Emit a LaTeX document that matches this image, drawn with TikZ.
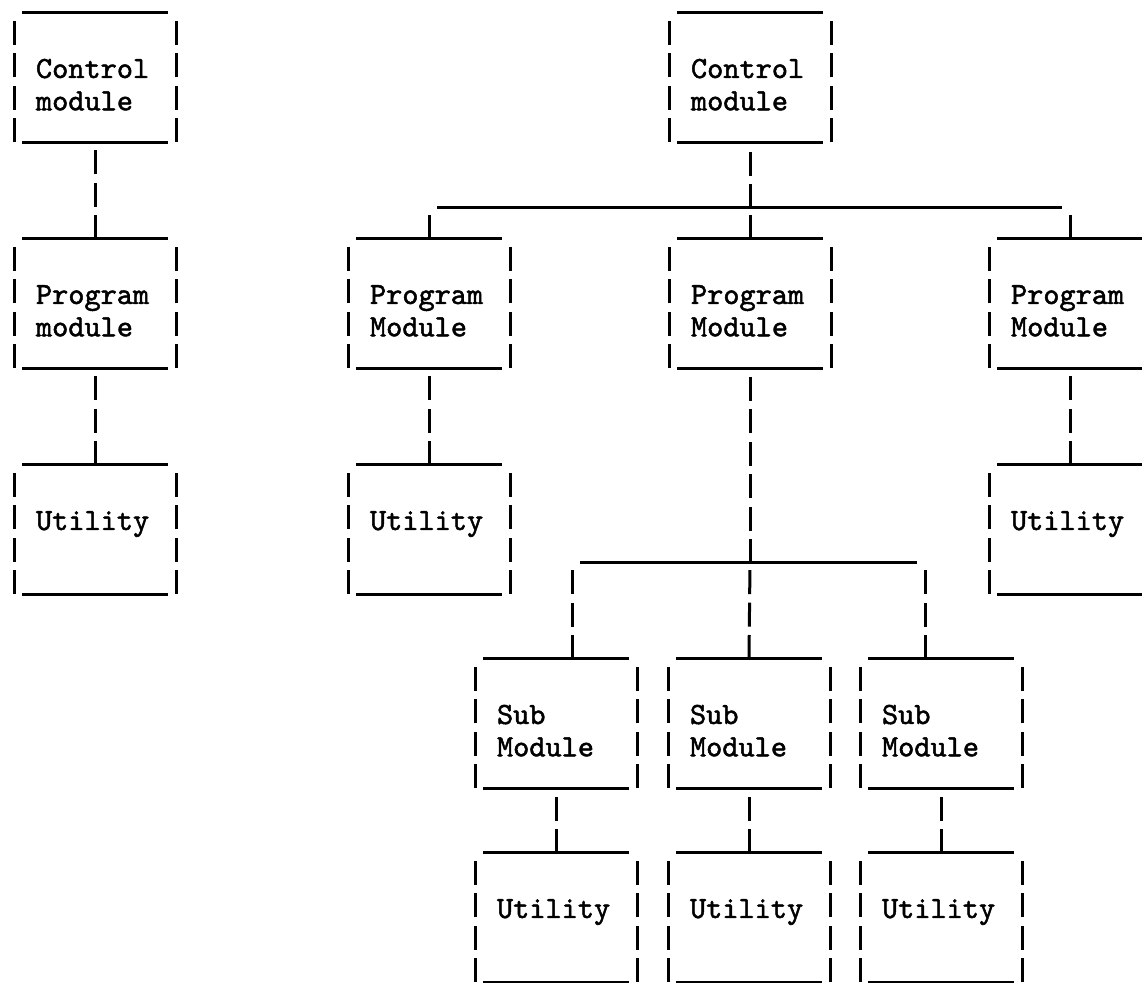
\documentclass[tikz,border=0pt]{standalone}
\usepackage{fontspec}
\newfontfamily\modfont{lmmono10-regular.otf}[FakeBold=1.6]
\usetikzlibrary{calc}

\tikzset{
  modbox/.style={anchor=north west, inner xsep=11pt, inner ysep=0pt,
    outer sep=0pt, text width=59pt, align=left,
    text height=32.5pt, text depth=32.1pt,
    font=\modfont\fontsize{15.4pt}{16.15pt}\selectfont},
  bar/.style={line width=1.5pt},
  pipe/.style={line width=1.5pt, dash pattern=on 12pt off 4.2pt}
}

% the typed frame round a module: solid top and bottom, broken sides
\newcommand\frameit[1]{%
  \draw[bar] ([xshift=4pt]#1.north west) -- ([xshift=-4pt]#1.north east);
  \draw[bar] ([xshift=4pt]#1.south west) -- ([xshift=-4pt]#1.south east);
  \draw[pipe] (#1.south west) -- (#1.north west);
  \draw[pipe] (#1.south east) -- (#1.north east);}

\begin{document}
\begin{tikzpicture}[x=0.5pt,y=-0.5pt]
  \useasboundingbox (0,0) rectangle (1142,983);
  \clip (0,0) rectangle (1142,983);

  % single chain
  \node[modbox] (ctlL) at (14,13) {Control\\module};
  \node[modbox] (pmL) at (14,239) {Program\\module};
  \node[modbox] (utL) at (14,465) {Utility};

  % tree
  \node[modbox] (ctlR) at (669,13) {Control\\module};
  \node[modbox] (pmA) at (348,239) {Program\\Module};
  \node[modbox] (pmB) at (669,239) {Program\\Module};
  \node[modbox] (pmC) at (989,239) {Program\\Module};
  \node[modbox] (utA) at (348,465) {Utility};
  \node[modbox] (utC) at (989,465) {Utility};
  \node[modbox] (subA) at (475,659) {Sub\\Module};
  \node[modbox] (subB) at (668,659) {Sub\\Module};
  \node[modbox] (subC) at (860,659) {Sub\\Module};
  \node[modbox] (utSA) at (475,853) {Utility};
  \node[modbox] (utSB) at (668,853) {Utility};
  \node[modbox] (utSC) at (860,853) {Utility};

  \frameit{ctlL} \frameit{pmL} \frameit{utL}
  \frameit{ctlR} \frameit{pmA} \frameit{pmB} \frameit{pmC}
  \frameit{utA} \frameit{utC}
  \frameit{subA} \frameit{subB} \frameit{subC}
  \frameit{utSA} \frameit{utSB} \frameit{utSC}

  \coordinate (busT) at (750,208);
  \coordinate (busTl) at (pmA.north |- busT);
  \coordinate (busTr) at (pmC.north |- busT);
  \coordinate (busM) at (750,563);
  \coordinate (busMl) at (572,563);
  \coordinate (busMr) at (925,563);

  \draw[pipe] (pmL.north) -- (ctlL.south);
  \draw[pipe] (utL.north) -- (pmL.south);

  \draw[bar] ([xshift=4pt]busTl) -- ([xshift=-4pt]busTr);
  \draw[pipe] (busT) -- (ctlR.south);
  \draw[pipe] (pmA.north) -- (busTl);
  \draw[pipe] (pmB.north) -- (busT);
  \draw[pipe] (pmC.north) -- (busTr);
  \draw[pipe] (utA.north) -- (pmA.south);
  \draw[pipe] (utC.north) -- (pmC.south);

  \draw[bar] ([xshift=4pt]busMl) -- ([xshift=-4pt]busMr);
  \draw[pipe] (busM) -- (pmB.south);
  \draw[pipe] (subA.north -| busMl) -- (busMl);
  \draw[pipe] (subB.north) -- (busM);
  \draw[pipe] (subC.north -| busMr) -- (busMr);
  \draw[pipe] (utSA.north) -- (subA.south);
  \draw[pipe] (utSB.north) -- (subB.south);
  \draw[pipe] (utSC.north) -- (subC.south);
\end{tikzpicture}
\end{document}
